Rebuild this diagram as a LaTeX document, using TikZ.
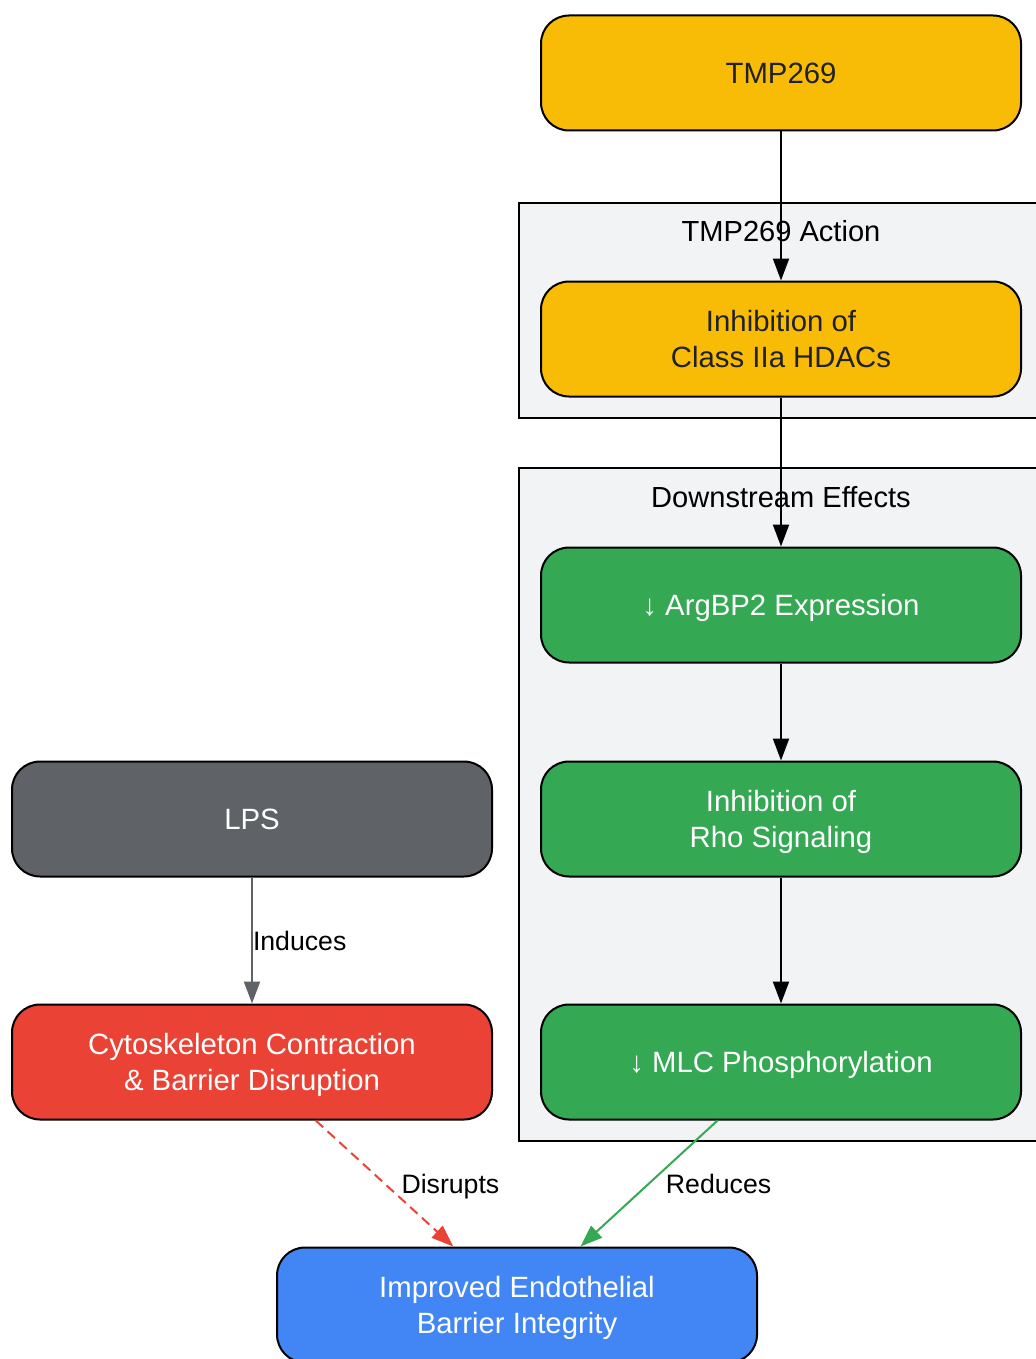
\documentclass[tikz,border=0pt]{standalone}
\usepackage{fontspec}
\setmainfont{Liberation Sans}
\usetikzlibrary{arrows.meta}
\usepackage{xcolor}
\definecolor{gyellow}{HTML}{F9BC06}
\definecolor{ggreen}{HTML}{34A853}
\definecolor{gred}{HTML}{EA4335}
\definecolor{gblue}{HTML}{4285F4}
\definecolor{ggray}{HTML}{5F6368}
\definecolor{gdark}{HTML}{202124}
\definecolor{clusterbg}{HTML}{F1F3F4}
\tikzstyle{every node}+=[inner sep=0pt]
\tikzstyle{box}=[draw=black, line width=1.5pt, rounded corners=21pt, minimum width=360pt, minimum height=86.25pt, align=center, font=\fontsize{22}{27}\selectfont]
\tikzstyle{oneline}=[text height=15.75pt, text depth=0pt]
\tikzstyle{twoline}=[text depth=0pt]
\tikzstyle{cluster}=[draw=black, line width=1.5pt, fill=clusterbg]
\tikzstyle{link}=[line width=1.5pt, -{Triangle[length=16.5pt,width=12pt]}]
\tikzstyle{lbl}=[font=\fontsize{20}{24}\selectfont, text=black, text height=14.3pt, text depth=0pt]

\begin{document}
\begin{tikzpicture}[x=0.75pt,y=-0.75pt]
\useasboundingbox (0,0) rectangle (1035,1359);
\fill [white] (0,0) rectangle (1035,1359);

% clusters
\draw [cluster] (519,203) rectangle (1045,418);
\node [font=\fontsize{21.8}{25}\selectfont, oneline] (actlbl) at (781,231) {TMP269 Action};
\draw [cluster] (519,468) rectangle (1045,1141);
\node [font=\fontsize{21.8}{25}\selectfont, oneline] (downlbl) at (781,497) {Downstream Effects};

% nodes
\node [box, oneline, fill=gyellow, text=gdark] (tmp) at (781,73) {TMP269};
\node [box, twoline, fill=gyellow, text=gdark] (hdac) at (781,339) {Inhibition of\\Class IIa HDACs};
\node [box, oneline, fill=ggreen, text=white] (argbp) at (781,605) {↓ ArgBP2 Expression};
\node [box, twoline, fill=ggreen, text=white] (rho) at (781,819) {Inhibition of\\Rho Signaling};
\node [box, oneline, fill=ggreen, text=white] (mlc) at (781,1062) {↓ MLC Phosphorylation};
\node [box, oneline, fill=ggray, text=white] (lps) at (252,819) {LPS};
\node [box, twoline, fill=gred, text=white] (cyto) at (252,1062) {Cytoskeleton Contraction\\\& Barrier Disruption};
\node [box, twoline, fill=gblue, text=white] (barrier) at (517,1305) {Improved Endothelial\\Barrier Integrity};

% links
\draw [link] (tmp) -- (hdac);
\draw [link] (hdac) -- (argbp);
\draw [link] (argbp) -- (rho);
\draw [link] (rho) -- (mlc);
\draw [link, ggray] (lps) -- node [lbl, anchor=west] {Induces} (cyto);
\draw [link, gred, dash pattern=on 7.5pt off 4.5pt] (cyto) -- node [lbl, anchor=west, xshift=12pt] {Disrupts} (barrier);
\draw [link, ggreen] (mlc) -- node [lbl, anchor=west, xshift=12pt] {Reduces} (barrier);
\end{tikzpicture}
\end{document}
